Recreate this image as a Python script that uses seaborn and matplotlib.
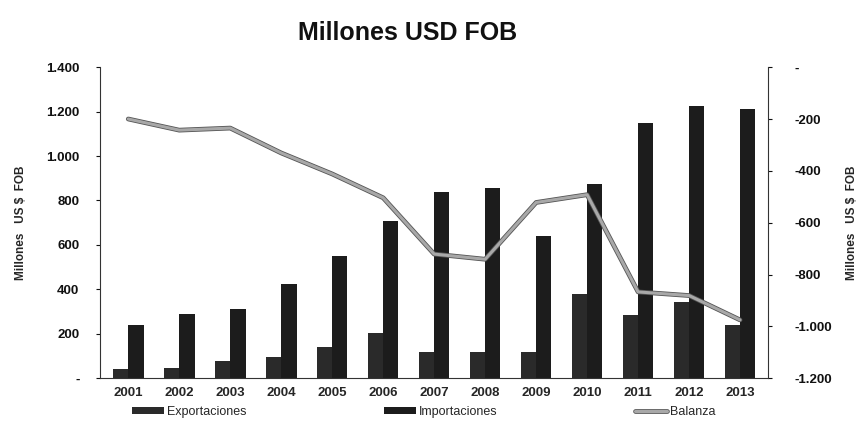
import numpy as np
import pandas as pd
import matplotlib
matplotlib.use('Agg')
import matplotlib.pyplot as plt
import matplotlib.patheffects as pe
from matplotlib.ticker import FixedLocator, FuncFormatter
import seaborn as sns

sns.set_style('white')
plt.rcParams['font.family'] = ['Liberation Sans', 'DejaVu Sans']

years = ['2001', '2002', '2003', '2004', '2005', '2006', '2007',
         '2008', '2009', '2010', '2011', '2012', '2013']
exportaciones = [40, 45, 76, 94, 140, 204, 117, 117, 117, 381, 283, 343, 238]
importaciones = [240, 288, 311, 425, 552, 708, 838, 858, 639, 873, 1150, 1224, 1213]
balanza = [-200, -243, -235, -331, -412, -504, -721, -741, -522, -492, -867, -881, -975]

bar_df = pd.DataFrame({
    'year': years * 2,
    'valor': exportaciones + importaciones,
    'serie': ['Exportaciones'] * len(years) + ['Importaciones'] * len(years),
})

def miles(v, pos):
    if v == 0:
        return '-'
    return '{:,.0f}'.format(v).replace(',', '.')

fig, ax = plt.subplots(figsize=(8.64, 4.25), dpi=100)
fig.subplots_adjust(left=0.116, right=0.889, top=0.842, bottom=0.11)

sns.barplot(data=bar_df, x='year', y='valor', hue='serie',
            palette={'Exportaciones': '#2a2a2a', 'Importaciones': '#1c1c1c'},
            width=0.6, gap=0, saturation=1, edgecolor='none', ax=ax)
ax.set_xlim(-0.55, len(years) - 0.45)
ax.set_ylim(0, 1400)
ax.yaxis.set_major_locator(FixedLocator(np.arange(0, 1401, 200)))
ax.yaxis.set_major_formatter(FuncFormatter(miles))
ax.set_xlabel('')
ax.set_ylabel('Millones   US $  FOB', fontsize=8.5, fontweight='bold', labelpad=14)

ax2 = ax.twinx()
sns.lineplot(x=np.arange(len(years)), y=balanza, ax=ax2, color='#a8a8a8',
             linewidth=2.2, label='Balanza',
             path_effects=[pe.Stroke(linewidth=3.4, foreground='#555555'), pe.Normal()])
ax2.set_ylim(-1200, 0)
ax2.yaxis.set_major_locator(FixedLocator(np.arange(-1200, 1, 200)))
ax2.yaxis.set_major_formatter(FuncFormatter(miles))
ax2.set_ylabel('Millones   US $  FOB', fontsize=8.5, fontweight='bold', labelpad=10)

for a in (ax, ax2):
    a.spines['top'].set_visible(False)
    for s in ('left', 'right', 'bottom'):
        a.spines[s].set_linestyle((0, (2, 1)))
        a.spines[s].set_linewidth(0.8)
        a.spines[s].set_color('#333333')
    a.tick_params(axis='y', length=3, width=0.8, labelsize=9.5, colors='#111111')
    for lbl in a.get_yticklabels():
        lbl.set_fontweight('bold')
ax.spines['right'].set_visible(False)
ax2.spines['left'].set_visible(False)
ax2.spines['bottom'].set_visible(False)
ax.tick_params(axis='y', pad=12)
ax2.tick_params(axis='y', pad=16)

ax.tick_params(axis='x', length=0, labelsize=9.5, pad=6)
for lbl in ax.get_xticklabels():
    lbl.set_fontweight('bold')
ax.xaxis.set_minor_locator(FixedLocator(np.arange(len(years) - 1) + 0.5))
ax.tick_params(axis='x', which='minor', length=3, width=0.8, direction='out')

h1, l1 = ax.get_legend_handles_labels()
h2, l2 = ax2.get_legend_handles_labels()
ax.get_legend().remove()
ax2.get_legend().remove()
fig.legend(h1 + h2, l1 + l2, loc='lower center', bbox_to_anchor=(0.49, -0.01),
           ncol=3, frameon=False, fontsize=9, columnspacing=11,
           handlelength=2.6, handleheight=0.5, handletextpad=0.2)

fig.text(0.472, 0.922, 'Millones USD FOB', ha='center', va='center',
         fontsize=18, fontweight='bold', color='#111111')

fig.savefig('out.png', dpi=100)
